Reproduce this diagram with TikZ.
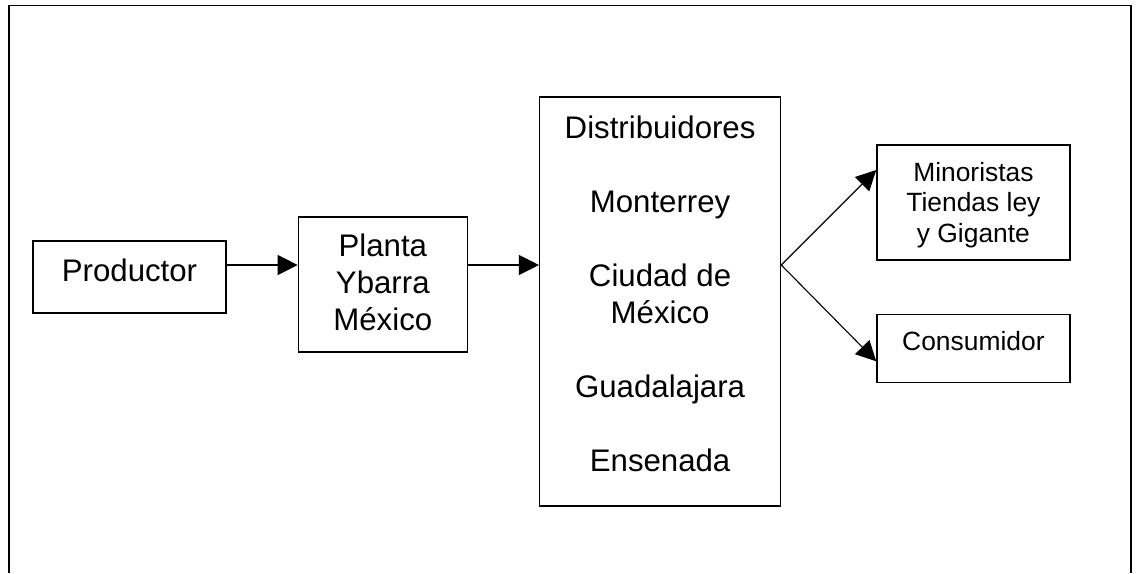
\documentclass[tikz,border=0pt]{standalone}
\usepackage{fontspec}
\setmainfont{Liberation Sans}
\usetikzlibrary{positioning, arrows.meta}

\begin{document}
\begin{tikzpicture}[x=0.5pt, y=-0.5pt]

% --- Define Styles ---
\tikzstyle{caja} = [rectangle, minimum width=96.5pt, draw=black, line width=0.65pt, inner sep=0pt, align=center, text centered, font=\fontsize{15.6}{18.5}\selectfont]
\tikzstyle{cajachica} = [caja, font=\fontsize{13.2}{15.25}\selectfont]
\tikzstyle{flecha} = [line width=0.55pt, -{Triangle[length=10pt, width=10pt]}]

\useasboundingbox (0,0) rectangle (1140,573);
% marco (abierto por abajo)
\draw[line width=0.9pt] (9,573) -- (9,5.5) -- (1131,5.5) -- (1131,573);
\coordinate (eje) at (0,265);

% --- Nodes ---
\node (prod) [caja, minimum height=36pt, text depth=7pt] at (129.5,277) {Productor};
\node (plan) [caja, minimum width=84.5pt, minimum height=67.5pt, text depth=2pt, right=35.5pt of prod, yshift=-3.75pt] {Planta\\Ybarra\\México};
\node (dist) [caja, minimum width=120.5pt, minimum height=204.5pt, text depth=8pt, right=35.5pt of plan, yshift=-8.5pt] {Distribuidores\\[18.5pt]Monterrey\\[18.5pt]Ciudad de\\México\\[18.5pt]Guadalajara\\[18.5pt]Ensenada};

\node (mino) [cajachica, minimum height=57.5pt, text depth=0.3pt, right=47.5pt of dist, yshift=49.5pt] {Minoristas\\Tiendas ley\\y Gigante};
\node (cons) [cajachica, minimum height=34pt, text depth=7pt, below=26.5pt of mino] {Consumidor};

% --- Arrows ---
\draw [flecha] (prod.east |- eje) -- (plan.west |- eje);
\draw [flecha] (plan.east |- eje) -- (dist.west |- eje);
\draw [flecha] (dist.east |- eje) -- ([yshift=16.25pt]mino.west);
\draw [flecha] (dist.east |- eje) -- ([yshift=-6.5pt]cons.west);

\end{tikzpicture}
\end{document}
